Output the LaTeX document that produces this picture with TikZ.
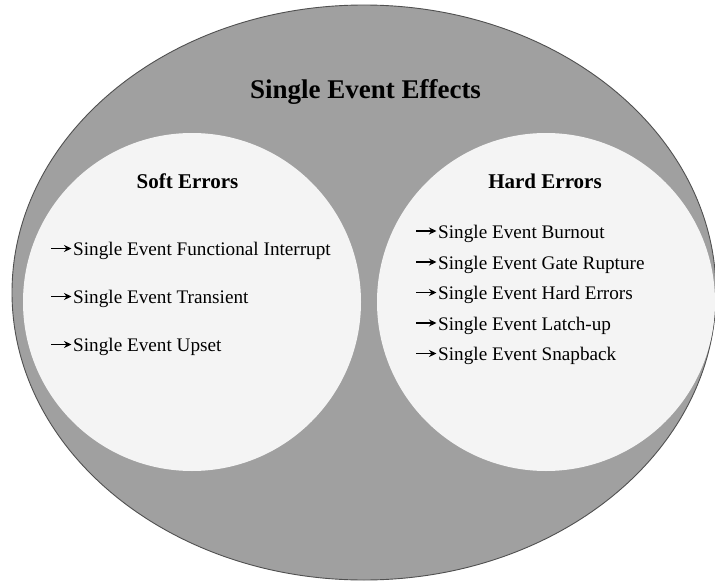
\documentclass[tikz,border=0pt]{standalone}
\usepackage{fontspec}
\setmainfont{Liberation Serif}
\usetikzlibrary{arrows.meta}
\definecolor{outerfill}{HTML}{A0A0A0}
\definecolor{innerfill}{HTML}{F4F4F4}
\definecolor{outerline}{HTML}{505050}
\begin{document}
\begin{tikzpicture}[x=1pt,y=-1pt,
  title/.style={font=\fontsize{27}{30}\selectfont\bfseries, inner sep=0pt, anchor=base},
  header/.style={font=\fontsize{21}{24}\selectfont\bfseries, inner sep=0pt, anchor=base},
  item/.style={font=\fontsize{19.2}{22}\selectfont, inner sep=0pt, anchor=base west},
  itemarrow/.style={line width=1.1pt, -{Stealth[length=7.5pt,width=7pt]}},
  outer/.style={fill=outerfill, draw=outerline, line width=0.9pt},
  inner/.style={fill=innerfill, draw=none}]
\useasboundingbox (0,0) rectangle (715,586);
\draw[outer] (364,292.5) ellipse [x radius=352, y radius=287.5];
\fill[inner] (192,302) circle [radius=169];
\fill[inner] (546,302) circle [radius=169];
\node[title] (t) at (365.5,99) {Single Event Effects};
\node[header] (soft) at (187.5,188) {Soft Errors};
\node[header] (hard) at (545,188) {Hard Errors};
\node[item] (s1) at (73,255.5) {Single Event Functional Interrupt};
\node[item] (s2) at (73,303.5) {Single Event Transient};
\node[item] (s3) at (73,351.5) {Single Event Upset};
\node[item] (h1) at (438,238) {Single Event Burnout};
\node[item] (h2) at (438,269) {Single Event Gate Rupture};
\node[item] (h3) at (438,299.5) {Single Event Hard Errors};
\node[item] (h4) at (438,330) {Single Event Latch-up};
\node[item] (h5) at (438,360.5) {Single Event Snapback};
\foreach \n in {s1,s2,s3,h1,h2,h3,h4,h5}
  \draw[itemarrow] ([xshift=-22pt,yshift=7pt]\n.base west) -- ([xshift=-1.5pt,yshift=7pt]\n.base west);
\end{tikzpicture}
\end{document}
